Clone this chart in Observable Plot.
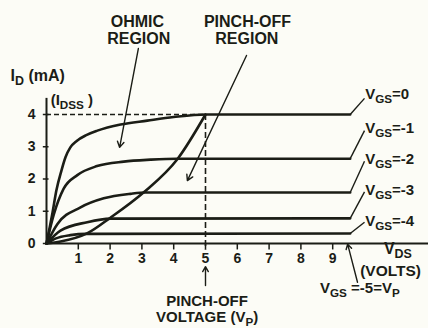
<!DOCTYPE html>
<html><head><meta charset="utf-8">
<script src="https://cdn.jsdelivr.net/npm/d3@7"></script>
<script src="https://cdn.jsdelivr.net/npm/@observablehq/plot@0.6"></script>
<style>
html,body{margin:0;padding:0;background:#fcfcf6;}
#chart svg{display:block;}
</style></head><body><div id="chart"></div>
<script>
// ---- data ----
const xTicks = [1, 2, 3, 4, 5, 6, 7, 8, 9];
const yTicks = [0, 1, 2, 3, 4];
const vgsNames = ["0", "-1", "-2", "-3", "-4"];

const vds0 = [0, 0.19, 0.31, 0.47, 0.6, 0.75, 0.95, 1.25, 1.6, 2.33, 3.17, 4.0, 5.0, 9.55];
const id0  = [0, 0.96, 1.64, 2.26, 2.68, 2.98, 3.18, 3.36, 3.5, 3.69, 3.81, 3.92, 4.0, 4.0];
const vds1 = [0, 0.23, 0.54, 0.97, 1.59, 2.43, 3.27, 4.1, 9.55];
const id1  = [0, 0.9, 1.7, 2.12, 2.4, 2.54, 2.6, 2.63, 2.63];
const vds2 = [0, 0.34, 1.07, 1.8, 2.64, 3.11, 9.55];
const id2  = [0, 0.6, 1.12, 1.4, 1.54, 1.58, 1.58];
const vds3 = [0, 0.44, 1.28, 2.01, 9.55];
const id3  = [0, 0.4, 0.66, 0.77, 0.78];
const vds4 = [0, 0.3, 0.75, 1.25, 9.55];
const id4  = [0, 0.16, 0.26, 0.3, 0.31];
const locusVds = [0, 0.44, 1.29, 2.01, 3.05, 4.12, 5.0];
const locusId  = [0, 0.06, 0.32, 0.8, 1.58, 2.62, 4.0];
const idss = 4;
const vp = 5;

// ---- build tables ----
const seriesVds = [vds0, vds1, vds2, vds3, vds4];
const seriesId = [id0, id1, id2, id3, id4];
const curveRows = vgsNames.flatMap((name, k) =>
  seriesVds[k].map((v, i) => ({vgs: name, vds: v, id: seriesId[k][i]})));
const locusRows = locusVds.map((v, i) => ({vds: v, id: locusId[i]}));
const ends = vgsNames.map((name, k) => ({
  vgs: name,
  vds: seriesVds[k][seriesVds[k].length - 1],
  id: seriesId[k][seriesId[k].length - 1]
}));
// label layout (annotation placement)
const labelY = [4.62, 3.57, 2.62, 1.64, 0.68];
const leadY = [4.5, 3.5, 2.55, 1.6, 0.66];

const INK = "#1b1d16";
const FONT = "'Liberation Sans', Arial, sans-serif";
const T = (size, extra = {}) => ({fill: INK, fontSize: size, fontWeight: "bold", fontFamily: FONT, ...extra});
const one = [0];

const chart = Plot.plot({
  width: 428,
  height: 328,
  margin: 0,
  style: {background: "#fcfcf6", fontFamily: FONT, overflow: "visible"},
  x: {domain: [0, 12], range: [46, 427.6], axis: null},
  y: {domain: [0, 4], range: [243, 114], axis: null},
  marks: [
    // axes
    Plot.ruleY([0], {x1: 0, x2: 12.1, stroke: INK, strokeWidth: 2.2}),
    Plot.ruleX([0], {y1: 0, y2: 4.5, stroke: INK, strokeWidth: 2}),
    Plot.ruleY(yTicks, {x1: -0.1, x2: 0.08, stroke: INK, strokeWidth: 1.5}),
    Plot.ruleX(xTicks, {y1: 0, y2: -0.2, stroke: INK, strokeWidth: 1.5}),
    Plot.text(yTicks, {x: -0.47, y: d => d, text: d => String(d), ...T(14)}),
    Plot.text(xTicks, {x: d => d, y: -0.47, text: d => String(d), ...T(14)}),
    // dashed IDSS / VP guides
    Plot.ruleY([idss], {x1: 0, x2: vp, stroke: INK, strokeWidth: 1.6, strokeDasharray: "5,3"}),
    Plot.ruleX([vp], {y1: idss, y2: -0.2, stroke: INK, strokeWidth: 1.6, strokeDasharray: "6,3"}),
    // characteristic curves
    Plot.line(curveRows, {x: "vds", y: "id", z: "vgs", curve: "monotone-x", stroke: INK, strokeWidth: 2.6}),
    Plot.line(locusRows, {x: "vds", y: "id", curve: "monotone-x", stroke: INK, strokeWidth: 2.6}),
    // leaders to VGS labels
    Plot.link(ends, {x1: "vds", y1: "id", x2: 10.0, y2: (d, i) => leadY[i], stroke: INK, strokeWidth: 1.4}),
    Plot.text(ends, {x: 10.02, y: (d, i) => labelY[i], text: d => "V_{GS}=" + d.vgs, textAnchor: "start", ...T(15, {letterSpacing: 0.4})}),
    // VGS = -5 = VP
    Plot.arrow(one, {x1: 9.78, y1: -1.2, x2: 9.47, y2: -0.02, stroke: INK, strokeWidth: 1.4, headLength: 6}),
    Plot.text(one, {x: 8.6, y: -1.38, text: () => "V_{GS} =-5=V_{P}", textAnchor: "start", ...T(15)}),
    // axis titles
    Plot.text(one, {x: 11.05, y: -0.16, text: () => "V_{DS}", ...T(16)}),
    Plot.text(one, {x: 10.82, y: -0.84, text: () => "(VOLTS)", ...T(15.5)}),
    Plot.text(one, {x: -1.13, y: 5.2, text: () => "I_{D} (mA)", textAnchor: "start", ...T(16, {letterSpacing: 1.2})}),
    Plot.text(one, {x: 0.13, y: 4.43, text: () => "(I_{DSS} )", textAnchor: "start", ...T(15, {letterSpacing: 1.2})}),
    // region annotations
    Plot.text(one, {x: 2.86, y: 6.88, text: () => "OHMIC", ...T(16, {letterSpacing: 1})}),
    Plot.text(one, {x: 2.9, y: 6.33, text: () => "REGION", ...T(16, {letterSpacing: 0.5})}),
    Plot.text(one, {x: 6.32, y: 6.88, text: () => "PINCH-OFF", ...T(16, {letterSpacing: 1})}),
    Plot.text(one, {x: 6.3, y: 6.33, text: () => "REGION", ...T(16, {letterSpacing: 0.5})}),
    Plot.arrow(one, {x1: 2.89, y1: 6.05, x2: 2.3, y2: 2.98, stroke: INK, strokeWidth: 1.4, headLength: 7}),
    Plot.arrow(one, {x1: 6.29, y1: 5.83, x2: 4.43, y2: 1.95, stroke: INK, strokeWidth: 1.4, headLength: 7}),
    // pinch-off voltage
    Plot.arrow(one, {x1: 5.0, y1: -1.3, x2: 5.0, y2: -0.72, stroke: INK, strokeWidth: 1.4, headLength: 6}),
    Plot.text(one, {x: 5.05, y: -1.8, text: () => "PINCH-OFF", ...T(15, {letterSpacing: 0.8})}),
    Plot.text(one, {x: 5.05, y: -2.3, text: () => "VOLTAGE (V_{P})", ...T(15, {letterSpacing: 0.5})})
  ]
});

// turn _{...} into real subscripts
const NS = "http://www.w3.org/2000/svg";
chart.querySelectorAll("text").forEach(t => {
  const s = t.textContent;
  if (!s.includes("_{")) return;
  t.textContent = "";
  const re = /_\{([^}]*)\}/g;
  let last = 0, m, down = false;
  const add = (str, sub) => {
    const ts = document.createElementNS(NS, "tspan");
    ts.textContent = str;
    if (sub) { ts.setAttribute("font-size", "0.78em"); ts.setAttribute("dy", "4"); down = true; }
    else if (down) { ts.setAttribute("dy", "-4"); down = false; }
    t.appendChild(ts);
  };
  while ((m = re.exec(s))) {
    if (m.index > last) add(s.slice(last, m.index), false);
    add(m[1], true);
    last = re.lastIndex;
  }
  if (last < s.length) add(s.slice(last), false);
});

document.getElementById("chart").appendChild(chart);
</script>
</body></html>
